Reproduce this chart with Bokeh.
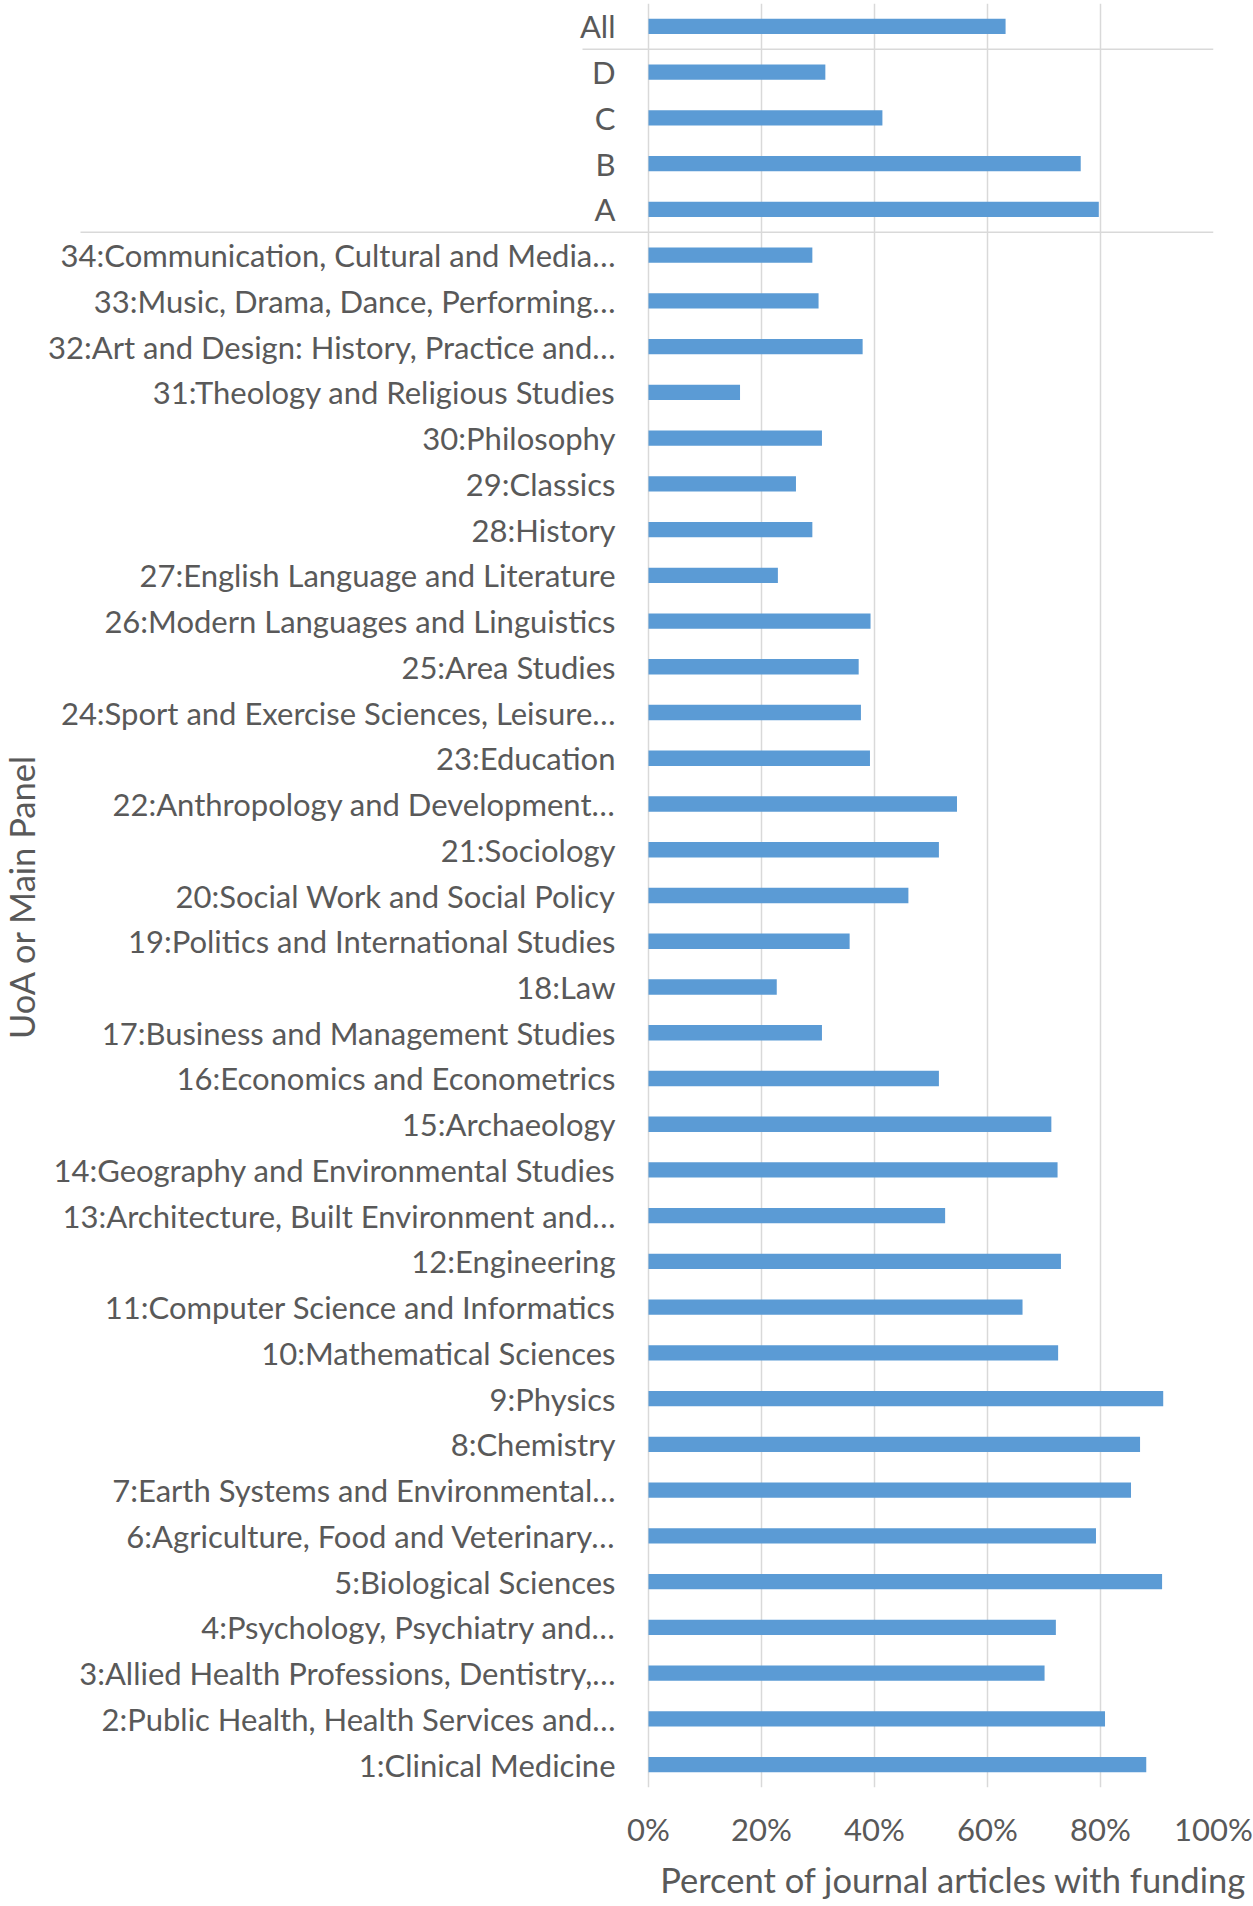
import math
from bokeh.plotting import figure
from bokeh.models import Range1d, FixedTicker, PrintfTickFormatter, Title
from bokeh.core.properties import value
from bokeh.embed import file_html
from bokeh.resources import INLINE

# Categories, bottom to top
labels = [
    "1:Clinical Medicine",
    "2:Public Health, Health Services and…",
    "3:Allied Health Professions, Dentistry,…",
    "4:Psychology, Psychiatry and…",
    "5:Biological Sciences",
    "6:Agriculture, Food and Veterinary…",
    "7:Earth Systems and Environmental…",
    "8:Chemistry",
    "9:Physics",
    "10:Mathematical Sciences",
    "11:Computer Science and Informatics",
    "12:Engineering",
    "13:Architecture, Built Environment and…",
    "14:Geography and Environmental Studies",
    "15:Archaeology",
    "16:Economics and Econometrics",
    "17:Business and Management Studies",
    "18:Law",
    "19:Politics and International Studies",
    "20:Social Work and Social Policy",
    "21:Sociology",
    "22:Anthropology and Development…",
    "23:Education",
    "24:Sport and Exercise Sciences, Leisure…",
    "25:Area Studies",
    "26:Modern Languages and Linguistics",
    "27:English Language and Literature",
    "28:History",
    "29:Classics",
    "30:Philosophy",
    "31:Theology and Religious Studies",
    "32:Art and Design: History, Practice and…",
    "33:Music, Drama, Dance, Performing…",
    "34:Communication, Cultural and Media…",
    "A",
    "B",
    "C",
    "D",
    "All",
]

# Percent of journal articles with funding
values = [
    88.1, 80.8, 70.1, 72.1, 90.9, 79.2, 85.4, 87.0, 91.1, 72.5,
    66.2, 73.0, 52.5, 72.4, 71.3, 51.4, 30.7, 22.7, 35.6, 46.0,
    51.4, 54.6, 39.2, 37.6, 37.2, 39.3, 22.9, 29.0, 26.1, 30.7,
    16.2, 37.9, 30.1, 29.0,
    79.7, 76.5, 41.4, 31.3,
    63.2,
]

x_ticks = [0, 20, 40, 60, 80, 100]
x_title = "Percent of journal articles with funding"
y_title = "UoA or Main Panel"
# group separators (between "34" / "A" and between "D" / "All")
group_breaks = [33.5, 37.5]

# ---- styling / layout (pixels) ----
FONT = "Lato"
TXT = "#595959"
GRID = "#d9d9d9"
BAR = "#5B9BD5"
PX_PER_PCT = 5.65          # 100% spans 565 px
ZERO_X = 648               # canvas x of the 0% line
TOP = 3
FRAME_H = 1784
n = len(labels)
px_per_cat = FRAME_H / n
x_start = -ZERO_X / PX_PER_PCT
label_x = -33 / PX_PER_PCT                      # labels end 33px left of 0%
break_starts = [-568 / PX_PER_PCT, -66 / PX_PER_PCT]
ytitle_x = (21 - ZERO_X) / PX_PER_PCT
ytitle_y = (n - 0.5) - (896 - TOP) / px_per_cat

ypos = list(range(n))

p = figure(
    frame_width=1213, frame_height=FRAME_H,
    min_border_left=0, min_border_right=40,
    min_border_top=TOP, min_border_bottom=119,
    x_range=Range1d(x_start, 100), y_range=Range1d(-0.5, n - 0.5),
    output_backend="svg", toolbar_location=None, tools="",
)
p.outline_line_color = None
p.background_fill_color = "white"
p.border_fill_color = "white"

# group separator lines
p.segment(x0=break_starts, x1=[100, 100], y0=group_breaks, y1=group_breaks,
          line_color=GRID, line_width=1.5)

# bars
p.hbar(y=ypos, left=0, right=values, height=0.335,
       fill_color=BAR, line_color=None)

# category labels
p.text(x=[label_x] * n, y=ypos, text=labels,
       text_align="right", text_baseline="middle",
       text_font=value(FONT), text_font_size="31px", text_color=TXT)

# y axis title
p.text(x=[ytitle_x], y=[ytitle_y], text=[y_title], angle=math.pi / 2,
       text_align="center", text_baseline="middle",
       text_font=value(FONT), text_font_size="34.5px", text_color=TXT)

p.yaxis.visible = False

# x axis
p.xaxis.ticker = FixedTicker(ticks=x_ticks)
p.xaxis.formatter = PrintfTickFormatter(format="%d%%")
p.xaxis.axis_line_color = None
p.xaxis.major_tick_line_color = None
p.xaxis.minor_tick_line_color = None
p.xaxis.major_tick_out = 0
p.xaxis.major_label_standoff = 22
p.xaxis.major_label_text_font = FONT
p.xaxis.major_label_text_font_size = "31px"
p.xaxis.major_label_text_color = TXT

# x axis title, right-aligned as in the original
p.add_layout(Title(
    text=x_title, align="right", offset=-33, standoff=13,
    text_font=FONT, text_font_size="34.5px", text_font_style="normal",
    text_color=TXT,
), "below")

p.xgrid.ticker = FixedTicker(ticks=x_ticks)
p.xgrid.grid_line_color = GRID
p.xgrid.grid_line_width = 1.5
p.ygrid.visible = False

open("out.html", "w").write(file_html(p, INLINE))
